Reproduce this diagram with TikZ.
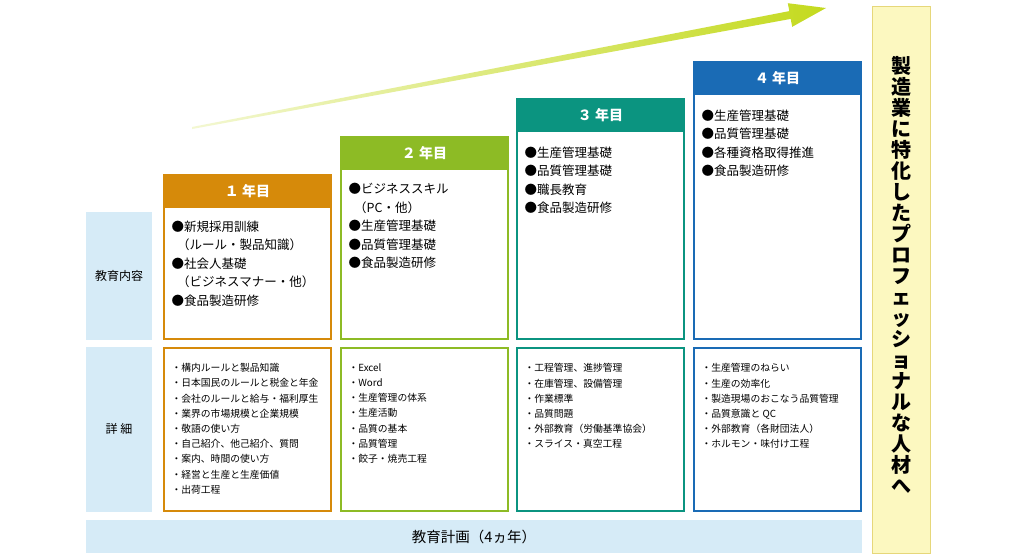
\documentclass[tikz,border=0pt]{standalone}
\usepackage{fontspec}
\setmainfont{Noto Sans CJK JP}
\begin{document}
\begin{tikzpicture}[x=1pt,y=-1pt,
  hdr/.style={text=white,font=\bfseries\fontsize{14}{16}\selectfont,anchor=center},
  cont/.style={draw,line width=1.6pt,fill=white},
  itm/.style={anchor=north west,align=left,font=\fontsize{12.5}{18.5}\selectfont},
  det/.style={anchor=north west,align=left,font=\fontsize{9.8}{15.2}\selectfont}]
\definecolor{lb}{HTML}{D6EBF7}
\definecolor{c1}{HTML}{D68A0A}
\definecolor{c2}{HTML}{8DBB25}
\definecolor{c3}{HTML}{0B9480}
\definecolor{c4}{HTML}{1A6BB5}
\definecolor{yb}{HTML}{FCF8C0}
\definecolor{ybd}{HTML}{E6D77A}
\definecolor{ag}{HTML}{C4DA1E}
\useasboundingbox (0,0) rectangle (1023,558);
\fill[white] (0,0) rectangle (1023,558);
\shade[left color=ag!20,right color=ag] (192,127) -- (789.3,11.1) -- (787.8,3.2) -- (826,8) -- (792.2,26.8) -- (790.7,18.9) -- (192,129) -- cycle;
\fill[lb] (86,212) rectangle (152,340);
\node (l1) at (119,276) {\fontsize{12}{14}\selectfont 教育内容};
\fill[lb] (86,347) rectangle (152,512);
\node (l2) at (119,429) {\fontsize{12}{14}\selectfont 詳\ 細};
\fill[lb] (86,520) rectangle (862,553);
\node (plan) at (474,537) {\fontsize{14.5}{16}\selectfont 教育計画（4ヵ年）};
\filldraw[fill=yb,draw=ybd,line width=0.8pt] (872,6) rectangle (930,553);
\node[align=center,font=\bfseries\fontsize{20}{21}\selectfont] (goal) at (901,275) {製\\造\\業\\に\\特\\化\\し\\た\\プ\\ロ\\フ\\ェ\\ッ\\シ\\ョ\\ナ\\ル\\な\\人\\材\\へ};
\foreach \i/\x/\y/\c/\t in {1/163/174/c1/{１ 年目},2/340/136/c2/{２ 年目},3/516/98/c3/{３ 年目},4/693/61/c4/{４ 年目}}{
  \filldraw[cont,draw=\c] (\x+0.8,\y+0.8) rectangle (\x+168.2,339.2);
  \fill[\c] (\x,\y) rectangle (\x+169,\y+34);
  \node[hdr] (h\i) at (\x+84.5,\y+17) {\t};
  \filldraw[cont,draw=\c] (\x+0.8,347.8) rectangle (\x+168.2,511.2);
}
\node[itm] (i1) at (168,217) {●新規採用訓練\\\ \ （ルール・製品知識）\\●社会人基礎\\\ \ （ビジネスマナー・他）\\●食品製造研修};
\node[itm] (i2) at (345,180) {●ビジネススキル\\\ \ （PC・他）\\●生産管理基礎\\●品質管理基礎\\●食品製造研修};
\node[itm] (i3) at (521,143) {●生産管理基礎\\●品質管理基礎\\●職長教育\\●食品製造研修};
\node[itm] (i4) at (698,106) {●生産管理基礎\\●品質管理基礎\\●各種資格取得推進\\●食品製造研修};
\node[det] (d1) at (168,360) {・構内ルールと製品知識\\・日本国民のルールと税金と年金\\・会社のルールと給与・福利厚生\\・業界の市場規模と企業規模\\・敬語の使い方\\・自己紹介、他己紹介、質問\\・案内、時間の使い方\\・経営と生産と生産価値\\・出荷工程};
\node[det] (d2) at (345,360) {・Excel\\・Word\\・生産管理の体系\\・生産活動\\・品質の基本\\・品質管理\\・餃子・焼売工程};
\node[det] (d3) at (521,360) {・工程管理、進捗管理\\・在庫管理、設備管理\\・作業標準\\・品質問題\\・外部教育（労働基準協会）\\・スライス・真空工程};
\node[det] (d4) at (698,360) {・生産管理のねらい\\・生産の効率化\\・製造現場のおこなう品質管理\\・品質意識と QC\\・外部教育（各財団法人）\\・ホルモン・味付け工程};
\end{tikzpicture}
\end{document}
